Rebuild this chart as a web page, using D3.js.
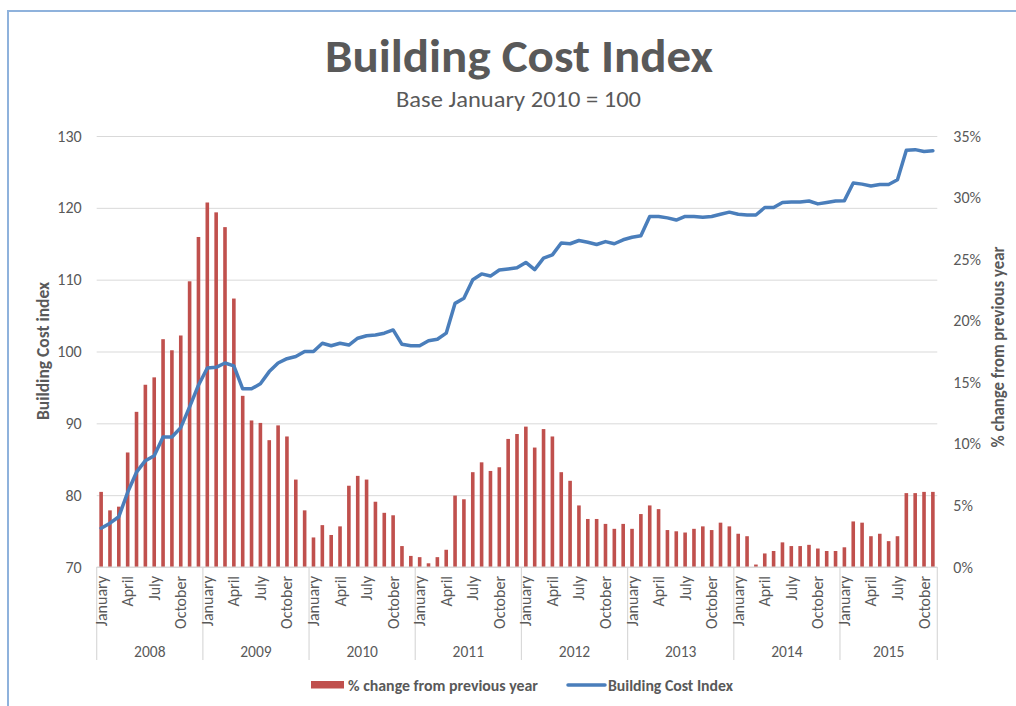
<!DOCTYPE html>
<html>
<head>
<meta charset="utf-8">
<script src="https://cdn.jsdelivr.net/npm/d3@7"></script>
<style>
  html, body { margin: 0; padding: 0; background: #fff; }
  svg { display: block; font-family: Carlito, Lato, "Open Sans", sans-serif; }
</style>
</head>
<body>
<svg id="chart" width="1016" height="706"></svg>
<script>
// ---- data ----
const years = ["2008", "2009", "2010", "2011", "2012", "2013", "2014", "2015"];
const monthNames = ["January","February","March","April","May","June","July","August","September","October","November","December"];
const shownMonths = ["January", "April", "July", "October"];

// % change from previous year (monthly, Jan 2008 - Nov 2015)
const pctChange = [
  6.1, 4.6, 4.9, 9.3, 12.6, 14.8, 15.4, 18.5, 17.6, 18.8, 23.2, 26.8,
  29.6, 28.8, 27.6, 21.8, 13.9, 11.9, 11.7, 10.3, 11.5, 10.6, 7.1, 4.6,
  2.4, 3.4, 2.6, 3.3, 6.6, 7.4, 7.1, 5.3, 4.4, 4.2, 1.7, 0.9,
  0.8, 0.3, 0.8, 1.4, 5.8, 5.5, 7.7, 8.5, 7.8, 8.1, 10.4, 10.8,
  11.4, 9.7, 11.2, 10.6, 7.7, 7.0, 5.0, 3.9, 3.9, 3.5, 3.1, 3.5,
  3.1, 4.3, 5.0, 4.7, 3.0, 2.9, 2.8, 3.1, 3.3, 3.0, 3.6, 3.3,
  2.7, 2.5, 0.2, 1.1, 1.3, 2.0, 1.7, 1.7, 1.8, 1.5, 1.3, 1.3,
  1.6, 3.7, 3.6, 2.5, 2.7, 2.1, 2.5, 6.0, 6.0, 6.1, 6.1
];

// Building Cost Index (base January 2010 = 100)
const costIndex = [
  75.4, 76.1, 77.0, 80.4, 83.2, 84.8, 85.5, 88.1, 88.1, 89.4, 92.3, 95.3,
  97.7, 97.8, 98.4, 98.0, 94.8, 94.8, 95.5, 97.2, 98.4, 99.0, 99.3, 100.0,
  100.0, 101.15, 100.8, 101.15, 100.9, 101.85, 102.2, 102.3, 102.55, 103.0, 101.0, 100.8,
  100.8, 101.5, 101.7, 102.55, 106.7, 107.4, 110.0, 110.8, 110.5, 111.35, 111.5, 111.65,
  112.4, 111.4, 113.0, 113.45, 115.1, 115.0, 115.45, 115.2, 114.9, 115.3, 115.0, 115.55,
  115.9, 116.1, 118.8, 118.8, 118.6, 118.3, 118.8, 118.8, 118.7, 118.8, 119.1, 119.4,
  119.1, 119.0, 119.0, 120.05, 120.05, 120.75, 120.8, 120.8, 120.95, 120.55, 120.75, 120.95,
  121.0, 123.45, 123.3, 123.05, 123.25, 123.25, 123.9, 128.0, 128.1, 127.85, 127.95
];

const leftTicks = [70, 80, 90, 100, 110, 120, 130];
const rightTicks = [0, 5, 10, 15, 20, 25, 30, 35];

// ---- build rows ----
const rows = pctChange.map((p, i) => ({
  i,
  year: years[Math.floor(i / 12)],
  month: monthNames[i % 12],
  pct: p,
  idx: costIndex[i]
}));

// ---- layout ----
const svg = d3.select("#chart");
const textColor = "#595959";
const gridColor = "#D9D9D9";
const plotLeft = 96.7, plotRight = 937.3, plotTop = 136, plotBottom = 567;

// outer border
svg.append("rect")
  .attr("x", 8).attr("y", 11).attr("width", 1030).attr("height", 720)
  .attr("fill", "none").attr("stroke", "#8FB2DC").attr("stroke-width", 2);

const x = d3.scaleBand().domain(rows.map(d => d.i)).range([plotLeft, plotRight]).padding(0);
const yL = d3.scaleLinear().domain([70, 130]).range([plotBottom, plotTop]);
const yR = d3.scaleLinear().domain([0, 35]).range([plotBottom, plotTop]);

// gridlines
const grid = svg.append("g").attr("transform", `translate(${plotLeft},0)`)
  .call(d3.axisLeft(yL).tickValues(leftTicks).tickSize(-(plotRight - plotLeft)).tickFormat(""));
grid.select(".domain").remove();
grid.selectAll("line").attr("stroke", gridColor).attr("stroke-width", 1);

// left axis labels
const gL = svg.append("g").attr("transform", `translate(${plotLeft},0)`)
  .call(d3.axisLeft(yL).tickValues(leftTicks).tickSize(0).tickPadding(15));
gL.select(".domain").remove();
gL.selectAll("text").attr("fill", textColor).style("font-size", "16px")
  .style("font-family", "Carlito, Lato, sans-serif");

// right axis labels
const gR = svg.append("g").attr("transform", `translate(${plotRight},0)`)
  .call(d3.axisRight(yR).tickValues(rightTicks).tickSize(0).tickPadding(16).tickFormat(d => d + "%"));
gR.select(".domain").remove();
gR.selectAll("text").attr("fill", textColor).style("font-size", "16px")
  .style("font-family", "Carlito, Lato, sans-serif");

// bars
const barW = 3.6;
svg.append("g").selectAll("rect").data(rows).join("rect")
  .attr("x", d => x(d.i) + (x.bandwidth() - barW) / 2)
  .attr("width", barW)
  .attr("y", d => yR(d.pct))
  .attr("height", d => yR(0) - yR(d.pct))
  .attr("fill", "#C0504D");

// bottom axis line
svg.append("line").attr("x1", plotLeft).attr("x2", plotRight).attr("y1", plotBottom).attr("y2", plotBottom)
  .attr("stroke", gridColor).attr("stroke-width", 1.2);

// year separators
const yearBounds = years.map((y, k) => x(k * 12)).concat([plotRight]);
svg.append("g").selectAll("line").data(yearBounds).join("line")
  .attr("x1", d => d).attr("x2", d => d).attr("y1", plotBottom).attr("y2", 660)
  .attr("stroke", gridColor).attr("stroke-width", 1.2);

// month labels
svg.append("g").selectAll("text").data(rows.filter(d => shownMonths.includes(d.month))).join("text")
  .attr("transform", d => `translate(${x(d.i) + x.bandwidth() / 2},576) rotate(-90)`)
  .attr("text-anchor", "end").attr("dominant-baseline", "central")
  .attr("fill", textColor).style("font-size", "16px")
  .text(d => d.month);

// year labels
svg.append("g").selectAll("text").data(years).join("text")
  .attr("x", (y, k) => (yearBounds[k] + yearBounds[k + 1]) / 2)
  .attr("y", 656.8)
  .attr("text-anchor", "middle").attr("fill", textColor).style("font-size", "15.5px")
  .text(y => y);

// line
const line = d3.line().x(d => x(d.i) + x.bandwidth() / 2).y(d => yL(d.idx));
svg.append("path").datum(rows).attr("d", line)
  .attr("fill", "none").attr("stroke", "#4A7EBB").attr("stroke-width", 3.5)
  .attr("stroke-linejoin", "round").attr("stroke-linecap", "round");

// title
svg.append("text").attr("x", 519).attr("y", 71.7).attr("text-anchor", "middle")
  .attr("fill", textColor).style("font-size", "47px").style("font-weight", "bold")
  .attr("textLength", 388).attr("lengthAdjust", "spacingAndGlyphs")
  .text("Building Cost Index");
svg.append("text").attr("x", 518.5).attr("y", 106.7).attr("text-anchor", "middle")
  .attr("fill", textColor).style("font-size", "21.5px")
  .attr("textLength", 245).attr("lengthAdjust", "spacingAndGlyphs")
  .text("Base January 2010 = 100");

// axis titles
svg.append("text").attr("transform", "translate(43,351) rotate(-90)")
  .attr("text-anchor", "middle").attr("dominant-baseline", "central")
  .attr("fill", textColor).style("font-size", "17px").style("font-weight", "bold")
  .attr("textLength", 138).attr("lengthAdjust", "spacingAndGlyphs")
  .text("Building Cost index");
svg.append("text").attr("transform", "translate(998,347) rotate(-90)")
  .attr("text-anchor", "middle").attr("dominant-baseline", "central")
  .attr("fill", textColor).style("font-size", "17px").style("font-weight", "bold")
  .attr("textLength", 201).attr("lengthAdjust", "spacingAndGlyphs")
  .text("% change from previous year");

// legend
const lg = svg.append("g");
lg.append("rect").attr("x", 311).attr("y", 681).attr("width", 33).attr("height", 7.5).attr("fill", "#C0504D");
lg.append("text").attr("x", 348).attr("y", 685).attr("dominant-baseline", "central")
  .attr("fill", textColor).style("font-size", "16px").style("font-weight", "bold")
  .attr("textLength", 190).attr("lengthAdjust", "spacingAndGlyphs")
  .text("% change from previous year");
lg.append("line").attr("x1", 568).attr("x2", 605).attr("y1", 685).attr("y2", 685)
  .attr("stroke", "#4A7EBB").attr("stroke-width", 3.5).attr("stroke-linecap", "round");
lg.append("text").attr("x", 608).attr("y", 685).attr("dominant-baseline", "central")
  .attr("fill", textColor).style("font-size", "16px").style("font-weight", "bold")
  .attr("textLength", 125).attr("lengthAdjust", "spacingAndGlyphs")
  .text("Building Cost Index");
</script>
</body>
</html>
